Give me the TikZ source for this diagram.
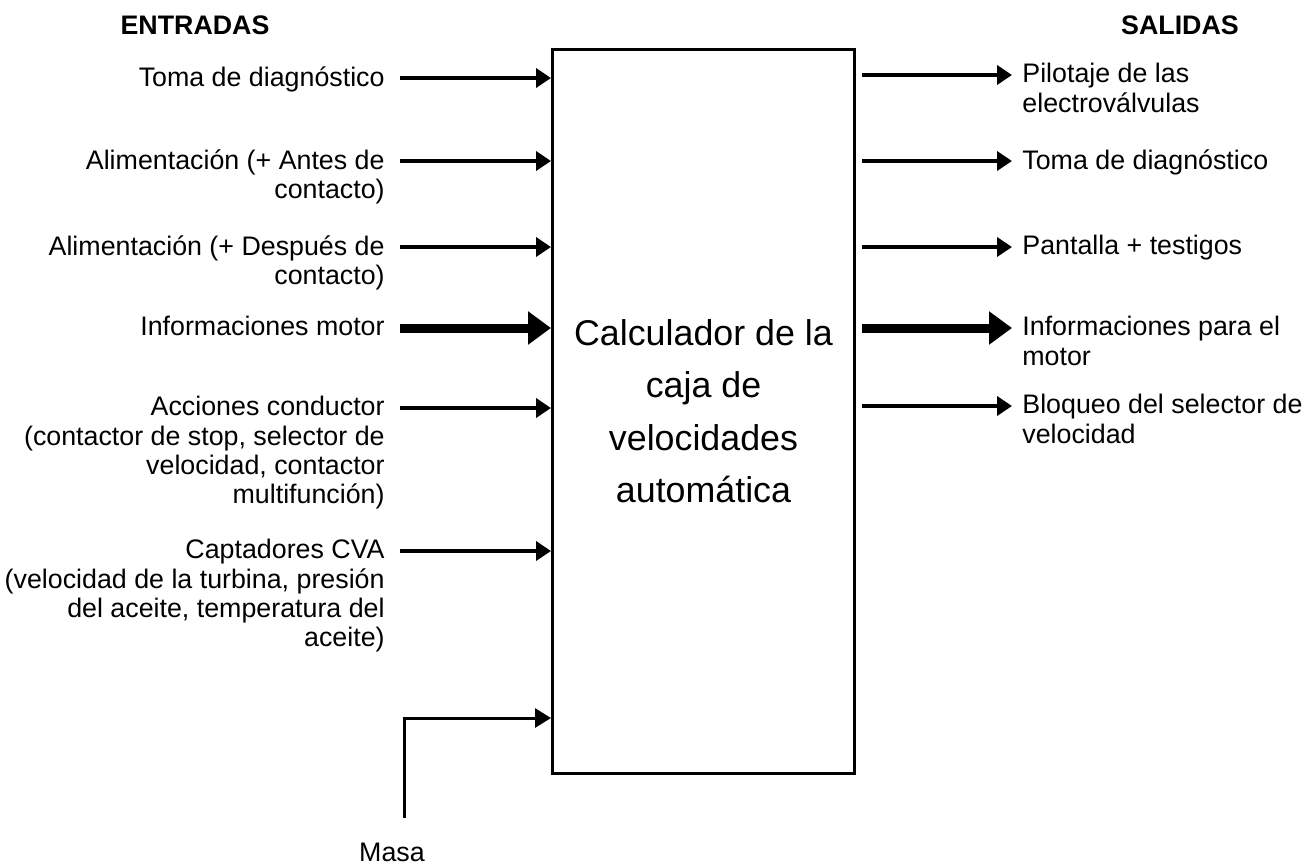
\documentclass[tikz,border=0pt]{standalone}
\usepackage{fontspec}
\setmainfont{Liberation Sans}
\usetikzlibrary{arrows.meta}
\newcommand\letrachica{\fontsize{13.4}{14.6}\selectfont}
\newcommand\letragrande{\fontsize{17.9}{26.2}\selectfont}
\tikzset{
	titulo/.style={font=\letrachica\bfseries, inner sep=0pt},
	caja/.style={draw, line width=1.5pt, minimum width=151pt, minimum height=362pt, inner sep=0pt, align=center, font=\letragrande},
	entrada/.style={font=\letrachica, align=right, inner sep=0pt, anchor=north east, xshift=-7.5pt, yshift=6pt},
	salida/.style={font=\letrachica, align=left, inner sep=0pt, anchor=north west, xshift=5pt, yshift=6pt},
	flecha/.style={line width=2pt, -{Triangle[length=7.5pt,width=9.5pt]}},
	gruesa/.style={line width=4.5pt, -{Triangle[length=11.5pt,width=16pt]}},
	tierra/.style={line width=1.5pt, -{Triangle[length=8pt,width=9.5pt]}}
}

\begin{document}
\begin{tikzpicture}[x=0.5pt,y=-0.5pt]
				\useasboundingbox (0,0) rectangle (1307,864);
				
				\node[titulo] (entradas) at (195,25) {ENTRADAS};
				\node[titulo] (salidas) at (1180,25) {SALIDAS};
				
				\node[caja] (calc) at (703.5,411) {Calculador de la\\caja de\\velocidades\\automática};
				
				\coordinate (a1) at (400,78);
				\coordinate (a2) at (400,161);
				\coordinate (a3) at (400,247);
				\coordinate (a4) at (400,328);
				\coordinate (a5) at (400,408);
				\coordinate (a6) at (400,551);
				
				\node[entrada] (e1) at (a1) {Toma de diagnóstico};
				\node[entrada] (e2) at (a2) {Alimentación (+ Antes de\\contacto)};
				\node[entrada] (e3) at (a3) {Alimentación (+ Después de\\contacto)};
				\node[entrada] (e4) at (a4) {Informaciones motor};
				\node[entrada] (e5) at (a5) {Acciones conductor\\(contactor de stop, selector de\\velocidad, contactor\\multifunción)};
				\node[entrada] (e6) at (a6) {Captadores CVA\\(velocidad de la turbina, presión\\del aceite, temperatura del\\aceite)};
				
				\draw[flecha] (a1) -- (a1 -| calc.west);
				\draw[flecha] (a2) -- (a2 -| calc.west);
				\draw[flecha] (a3) -- (a3 -| calc.west);
				\draw[gruesa] (a4) -- (a4 -| calc.west);
				\draw[flecha] (a5) -- (a5 -| calc.west);
				\draw[flecha] (a6) -- (a6 -| calc.west);
				
				\coordinate (m0) at (404,818);
				\coordinate (m1) at (404,718);
				\node[font=\letrachica, inner sep=0pt] (masa) at (392,852) {Masa};
				\draw[tierra] (m0) -- (m1) -- (m1 -| calc.west);
				
				\coordinate (b1) at (1012,75);
				\coordinate (b2) at (1012,161);
				\coordinate (b3) at (1012,247);
				\coordinate (b4) at (1012,328);
				\coordinate (b5) at (1012,406);
				
				\node[salida] (s1) at (b1) {Pilotaje de las\\electroválvulas};
				\node[salida] (s2) at (b2) {Toma de diagnóstico};
				\node[salida] (s3) at (b3) {Pantalla + testigos};
				\node[salida] (s4) at (b4) {Informaciones para el\\motor};
				\node[salida] (s5) at (b5) {Bloqueo del selector de\\velocidad};
				
				\draw[flecha] ([xshift=3pt]b1 -| calc.east) -- (b1);
				\draw[flecha] ([xshift=3pt]b2 -| calc.east) -- (b2);
				\draw[flecha] ([xshift=3pt]b3 -| calc.east) -- (b3);
				\draw[gruesa] ([xshift=3pt]b4 -| calc.east) -- (b4);
				\draw[flecha] ([xshift=3pt]b5 -| calc.east) -- (b5);
			\end{tikzpicture}
\end{document}
